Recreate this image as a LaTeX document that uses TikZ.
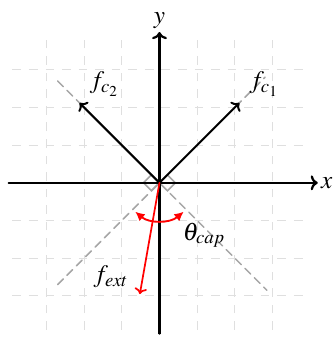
\documentclass[tikz,border=0pt]{standalone}
\usepackage{mathptmx}
\usepackage{tkz-euclide}
\usetikzlibrary{arrows.meta}

\tikzset{
  gridline/.style={gray!25,line width=0.7pt,dash pattern=on 6.5pt off 6pt},
  axisline/.style={->,line width=1.7pt},
  forceline/.style={->,line width=1.5pt},
  extline/.style={->,red,line width=1.3pt},
  capline/.style={gray!70,line width=1.2pt,dash pattern=on 6pt off 4pt},
  caparc/.style={{Latex[length=7pt,width=7pt]}-{Latex[length=7pt,width=7pt]},red,line width=1.4pt},
  lab/.style={font=\fontsize{19}{23}\selectfont,inner sep=2pt}
}

\begin{document}
\begin{tikzpicture}
            \useasboundingbox (-4.23,-4.09) rectangle (4.58,4.85);
            \draw[gridline] (-3.9,-3.9) grid (3.9,3.9);
            \tkzDefPoint(0,0){O}
            \tkzDefPoint(-4,0){Xa}
            \tkzDefPoint(4.2,0){Xb}
            \tkzDefPoint(0,-4){Ya}
            \tkzDefPoint(0,4){Yb}
            \tkzDefPoint(2.12,2.12){C1}
            \tkzDefPoint(-2.12,2.12){C2}
            \tkzDefPoint(-0.52,-2.95){E}
            \tkzDefPoint(-2.7,2.7){Ka}
            \tkzDefPoint(2.85,-2.85){Kb}
            \tkzDefPoint(-2.7,-2.7){Kc}
            \tkzDefPoint(2.8,2.8){Kd}
            \tkzDefPoint(230:1){Aa}
            % cone edges
            \tkzDrawSegment[capline](Ka,Kb)
            \tkzDrawSegment[capline](Kc,Kd)
            \tkzMarkRightAngle[size=.3,gray!70,line width=1.2pt](C1,O,Kb)
            \tkzMarkRightAngle[size=.3,gray!70,line width=1.2pt](Kc,O,C2)
            % axes
            \tkzDrawSegment[axisline](Xa,Xb)
            \tkzDrawSegment[axisline](Ya,Yb)
            \node[lab,right] (xlab) at (Xb) {$x$};
            \node[lab,above] (ylab) at (Yb) {$y$};
            % forces
            \tkzDrawSegment[forceline](O,C1)
            \tkzDrawSegment[forceline](O,C2)
            \tkzDrawSegment[extline](O,E)
            \draw[caparc] (Aa) arc[start angle=230,end angle=310,radius=1];
            \node[lab] (fcone) at (2.77,2.62) {$f_{c_1}$};
            \node[lab] (fctwo) at (-1.47,2.62) {$f_{c_2}$};
            \node[lab] (fext) at (-1.29,-2.49) {$f_{ext}$};
            \node[lab] (thcap) at (1.18,-1.39) {$\theta_{cap}$};
        \end{tikzpicture}
\end{document}
